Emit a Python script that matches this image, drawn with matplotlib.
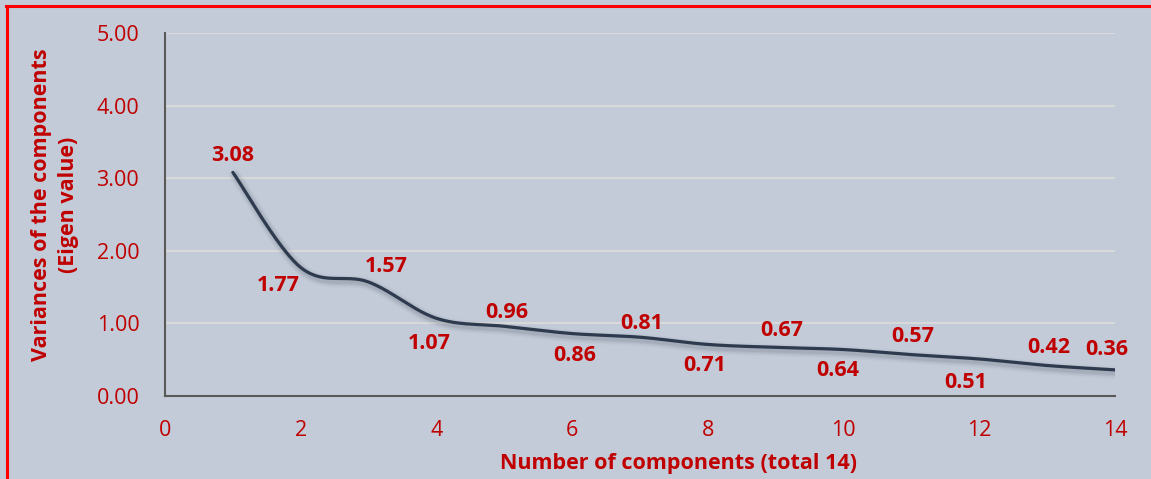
import numpy as np
import matplotlib
matplotlib.use("Agg")
import matplotlib.pyplot as plt
from matplotlib.lines import Line2D

components = [1, 2, 3, 4, 5, 6, 7, 8, 9, 10, 11, 12, 13, 14]
eigenvalues = [3.08, 1.77, 1.57, 1.07, 0.96, 0.86, 0.81, 0.71, 0.67, 0.64, 0.57, 0.51, 0.42, 0.36]
x_ticks = [0, 2, 4, 6, 8, 10, 12, 14]
y_ticks = [0.0, 1.0, 2.0, 3.0, 4.0, 5.0]
x_label = "Number of components (total 14)"
y_label = "Variances of the components\n(Eigen value)"

# label offsets in points (dx, dy)
label_offsets = [(0, 12), (-16, -13), (13, 11), (-5, -18), (2, 10), (2, -16), (1, 10),
                 (-2, -15), (4, 12), (-4, -15), (1, 13), (-10, -17), (1, 13), (-6, 15)]

RED = "#C00000"
BG = "#C2CBD7"
LINE = "#2E3A4E"

plt.rcParams['font.family'] = ['Open Sans', 'DejaVu Sans']

fig = plt.figure(figsize=(11.51, 4.79), dpi=100, facecolor=BG)
ax = fig.add_axes([165/1151, 1-396/479, (1115-165)/1151, (396-33)/479])
ax.set_facecolor(BG)

# Excel-style smoothed line (cubic Bezier through points)
def smooth(xs, ys, n=40):
    xs = np.asarray(xs, float); ys = np.asarray(ys, float)
    P = np.column_stack([xs, ys])
    out = []
    for i in range(len(P) - 1):
        p0 = P[i - 1] if i > 0 else P[i]
        p1 = P[i]; p2 = P[i + 1]
        p3 = P[i + 2] if i + 2 < len(P) else P[i + 1]
        c1 = p1 + (p2 - p0) / 6.0
        c2 = p2 - (p3 - p1) / 6.0
        t = np.linspace(0, 1, n)[:, None]
        seg = ((1 - t) ** 3) * p1 + 3 * ((1 - t) ** 2) * t * c1 + 3 * (1 - t) * t ** 2 * c2 + t ** 3 * p2
        out.append(seg if i == 0 else seg[1:])
    s = np.vstack(out)
    return s[:, 0], s[:, 1]

sx, sy = smooth(components, eigenvalues)

# shadow
for w, a in [(9, 0.04), (7, 0.06), (5, 0.08), (3.5, 0.10)]:
    ax.plot(sx + 0.03, sy - 0.04, color="#505A6A", lw=w, alpha=a, solid_capstyle='round', zorder=2)
ax.plot(sx, sy, color=LINE, lw=2.3, solid_capstyle='round', zorder=3)

for xv, yv, (dx, dy) in zip(components, eigenvalues, label_offsets):
    ax.annotate(f"{yv:.2f}", (xv, yv), xytext=(dx, dy), textcoords='offset points',
                ha='center', va='center', color=RED, fontsize=15.5, fontweight='bold', zorder=4)

ax.set_xlim(0, 14)
ax.set_ylim(0, 5)
ax.set_xticks(x_ticks)
ax.set_yticks(y_ticks)
ax.set_yticklabels([f"{v:.2f}" for v in y_ticks])
ax.tick_params(axis='both', length=0, colors=RED, labelsize=15.5)
ax.tick_params(axis='y', pad=18.5)
ax.tick_params(axis='x', pad=17)
ax.yaxis.grid(True, color="#D9D9D9", lw=1.5)
ax.set_axisbelow(True)
for s in ['top', 'right']:
    ax.spines[s].set_visible(False)
for s in ['left', 'bottom']:
    ax.spines[s].set_color("#595959")
    ax.spines[s].set_linewidth(1.5)

ax.set_xlabel(x_label, color=RED, fontsize=15.5, fontweight='bold', va='center', ha='center')
ax.xaxis.set_label_coords((679 - 165) / 950, (396 - 463) / 363)
ax.set_ylabel(y_label, color=RED, fontsize=15.5, fontweight='bold', linespacing=1.4,
              va='center', ha='center')
ax.yaxis.set_label_coords((55 - 165) / 950, (396 - 205) / 363)

# red frame (top and left)
fig.add_artist(Line2D([6/1151, 1], [1-6/479, 1-6/479], transform=fig.transFigure, color="#FF0000", lw=2.2))
fig.add_artist(Line2D([7.5/1151, 7.5/1151], [0, 1-6/479], transform=fig.transFigure, color="#FF0000", lw=2.2))

fig.savefig("out.png", dpi=100, facecolor=BG)
